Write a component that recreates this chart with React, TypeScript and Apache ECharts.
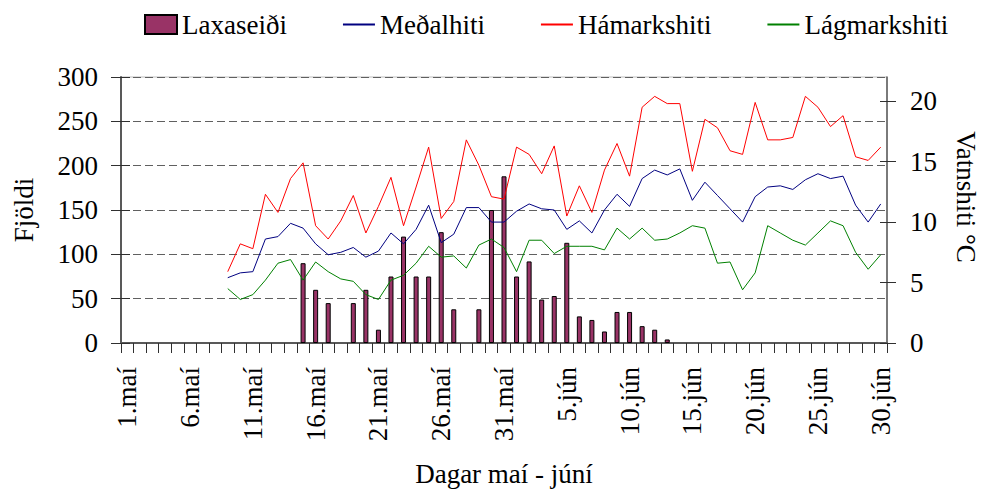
import React, { useEffect, useRef } from "react";
import * as echarts from "echarts";

const FONT = "Liberation Serif, Times New Roman, serif";

const mayDays = [
  "1.maí","2.maí","3.maí","4.maí","5.maí","6.maí","7.maí","8.maí","9.maí","10.maí",
  "11.maí","12.maí","13.maí","14.maí","15.maí","16.maí","17.maí","18.maí","19.maí","20.maí",
  "21.maí","22.maí","23.maí","24.maí","25.maí","26.maí","27.maí","28.maí","29.maí","30.maí","31.maí",
];
const juneDays = [
  "1.jún","2.jún","3.jún","4.jún","5.jún","6.jún","7.jún","8.jún","9.jún","10.jún",
  "11.jún","12.jún","13.jún","14.jún","15.jún","16.jún","17.jún","18.jún","19.jún","20.jún",
  "21.jún","22.jún","23.jún","24.jún","25.jún","26.jún","27.jún","28.jún","29.jún","30.jún",
];
const categories = [...mayDays, ...juneDays];

// Laxaseiði (fjöldi) – left axis
const laxaseidi: (number | null)[] = [
  null, null, null, null, null, null, null, null, null, null,
  null, null, null, null, 90, 60, 45, null, 45, 60,
  15, 75, 120, 75, 75, 125, 38, null, 38, 150,
  188, 75, 92, 49, 53, 113, 30, 26, 13, 35,
  35, 19, 15, 4, null, null, null, null, null, null,
  null, null, null, null, null, null, null, null, null, null, null,
];

// Vatnshiti °C – right axis
const medalhiti: (number | null)[] = [
  null, null, null, null, null, null, null, null,
  5.4, 5.8, 5.9, 8.6, 8.8, 9.9, 9.5, 8.2, 7.3, 7.5, 7.9, 7.1, 7.6, 9.1,
  8.2, 9.4, 11.4, 8.3, 9.0, 11.2, 11.2, 10.0, 10.0, 10.9, 11.5, 11.1, 11.0, 9.4, 10.1, 9.1, 11.0, 12.3, 11.3, 13.6, 14.3, 13.9, 14.4,
  11.8, 13.3, 12.2, 11.1, 10.0, 12.1, 12.9, 13.0, 12.7, 13.5, 14.0, 13.6, 13.8, 11.4, 10.0, 11.5,
];
const hamarkshiti: (number | null)[] = [
  null, null, null, null, null, null, null, null,
  5.9, 8.2, 7.8, 12.3, 10.8, 13.6, 14.9, 9.7, 8.6, 10.1, 12.2, 9.1, 11.3, 13.7,
  9.7, 12.9, 16.2, 10.3, 11.7, 16.8, 14.7, 12.1, 11.9, 16.2, 15.6, 14.0, 16.3, 10.5, 13.0, 10.8, 14.3, 16.5, 13.8, 19.5, 20.4, 19.8, 19.8,
  14.2, 18.5, 17.8, 15.9, 15.6, 19.9, 16.8, 16.8, 17.0, 20.4, 19.5, 17.9, 18.8, 15.4, 15.1, 16.2,
];
const lagmarkshiti: (number | null)[] = [
  null, null, null, null, null, null, null, null,
  4.5, 3.6, 4.0, 5.2, 6.6, 6.9, 5.2, 6.7, 5.9, 5.3, 5.1, 4.0, 3.6, 5.2,
  5.6, 6.6, 8.0, 7.1, 7.2, 6.2, 8.1, 8.6, 7.9, 5.9, 8.5, 8.5, 7.4, 8.0, 8.0, 8.0, 7.7, 9.5, 8.6, 9.5, 8.5, 8.6, 9.1,
  9.7, 9.5, 6.6, 6.7, 4.4, 5.8, 9.7, 9.1, 8.5, 8.1, 9.1, 10.1, 9.7, 7.5, 6.1, 7.3,
];

const leftTicks = [0, 50, 100, 150, 200, 250, 300];
const rightTicks = [0, 5, 10, 15, 20];

export default function App() {
  const ref = useRef<HTMLDivElement>(null);

  useEffect(() => {
    if (!ref.current) return;
    const chart = echarts.init(ref.current, null, { renderer: "svg" });
    const axisColor = "#595959";
    const tickColor = "#303030";
    const labelStyle = { color: "#000", fontFamily: FONT, fontSize: 27 };
    const hiddenSymbol = { opacity: 0, color: "rgba(0,0,0,0)", borderWidth: 0 };

    chart.setOption({
      animation: false,
      backgroundColor: "#fff",
      textStyle: { fontFamily: FONT },
      grid: {
        left: 121,
        right: 95,
        top: 77,
        bottom: 148,
        containLabel: false,
        outerBoundsMode: "none",
        show: true,
        borderColor: "#bdbdbd",
        borderWidth: 1,
      },
      legend: {
        left: 139,
        top: 6,
        itemWidth: 32,
        itemHeight: 19,
        itemGap: 55,
        textStyle: { color: "#000", fontFamily: FONT, fontSize: 27 },
        data: [
          { name: "Laxaseiði", icon: "rect" },
          { name: "Meðalhiti", itemStyle: hiddenSymbol },
          { name: "Hámarkshiti", itemStyle: hiddenSymbol },
          { name: "Lágmarkshiti", itemStyle: hiddenSymbol },
        ],
      },
      xAxis: {
        type: "category",
        data: categories,
        boundaryGap: true,
        name: "Dagar maí - júní",
        nameLocation: "middle",
        nameGap: 117,
        nameTextStyle: labelStyle,
        axisLine: { lineStyle: { color: axisColor, width: 2 } },
        axisTick: { show: true, interval: 0, length: 10, lineStyle: { color: tickColor } },
        axisLabel: { ...labelStyle, interval: 4, rotate: 90, margin: 24 },
        splitLine: { show: false },
      },
      yAxis: [
        {
          type: "value",
          min: 0,
          max: 300,
          interval: 50,
          position: "left",
          name: "Fjöldi",
          nameLocation: "middle",
          nameRotate: 90,
          nameGap: 84,
          nameTextStyle: labelStyle,
          axisLine: { show: true, lineStyle: { color: axisColor, width: 2 } },
          axisTick: { show: true, length: 10, lineStyle: { color: tickColor }, customValues: leftTicks },
          axisLabel: { ...labelStyle, margin: 23, customValues: leftTicks },
          splitLine: { show: true, lineStyle: { color: "#606060", type: [8, 4], width: 1 } },
        },
        {
          type: "value",
          min: 0,
          max: 22,
          interval: 5,
          position: "right",
          name: "Vatnshiti °C",
          nameLocation: "middle",
          nameRotate: -90,
          nameGap: 65,
          nameTextStyle: { ...labelStyle, padding: [0, 26, 0, 0] },
          axisLine: { show: true, lineStyle: { color: axisColor, width: 1.5 } },
          axisTick: { show: true, length: 9, lineStyle: { color: tickColor }, customValues: rightTicks },
          axisLabel: { ...labelStyle, margin: 23, customValues: rightTicks },
          splitLine: { show: false },
        },
        {
          type: "value",
          min: 0,
          max: 300,
          interval: 50,
          position: "left",
          axisLine: { show: false },
          axisTick: { show: true, inside: true, length: 9, lineStyle: { color: tickColor }, customValues: leftTicks },
          axisLabel: { show: false },
          splitLine: { show: false },
        },
        {
          type: "value",
          min: 0,
          max: 22,
          interval: 5,
          position: "right",
          axisLine: { show: false },
          axisTick: { show: true, inside: true, length: 7, lineStyle: { color: tickColor }, customValues: rightTicks },
          axisLabel: { show: false },
          splitLine: { show: false },
        },
      ],
      series: [
        {
          name: "Laxaseiði",
          type: "bar",
          yAxisIndex: 0,
          data: laxaseidi,
          barWidth: 5,
          itemStyle: { color: "#993366", borderColor: "#000", borderWidth: 1 },
        },
        {
          name: "Meðalhiti",
          type: "line",
          yAxisIndex: 1,
          data: medalhiti,
          symbol: "none",
          lineStyle: { color: "#000080", width: 1 },
          itemStyle: { color: "#000080" },
        },
        {
          name: "Hámarkshiti",
          type: "line",
          yAxisIndex: 1,
          data: hamarkshiti,
          symbol: "none",
          lineStyle: { color: "#ff0000", width: 1 },
          itemStyle: { color: "#ff0000" },
        },
        {
          name: "Lágmarkshiti",
          type: "line",
          yAxisIndex: 1,
          data: lagmarkshiti,
          symbol: "none",
          lineStyle: { color: "#008000", width: 1 },
          itemStyle: { color: "#008000" },
        },
      ],
    });

    return () => chart.dispose();
  }, []);

  return (
    <div
      ref={ref}
      style={{ position: "fixed", left: 0, top: 0, width: 982, height: 491 }}
    />
  );
}
